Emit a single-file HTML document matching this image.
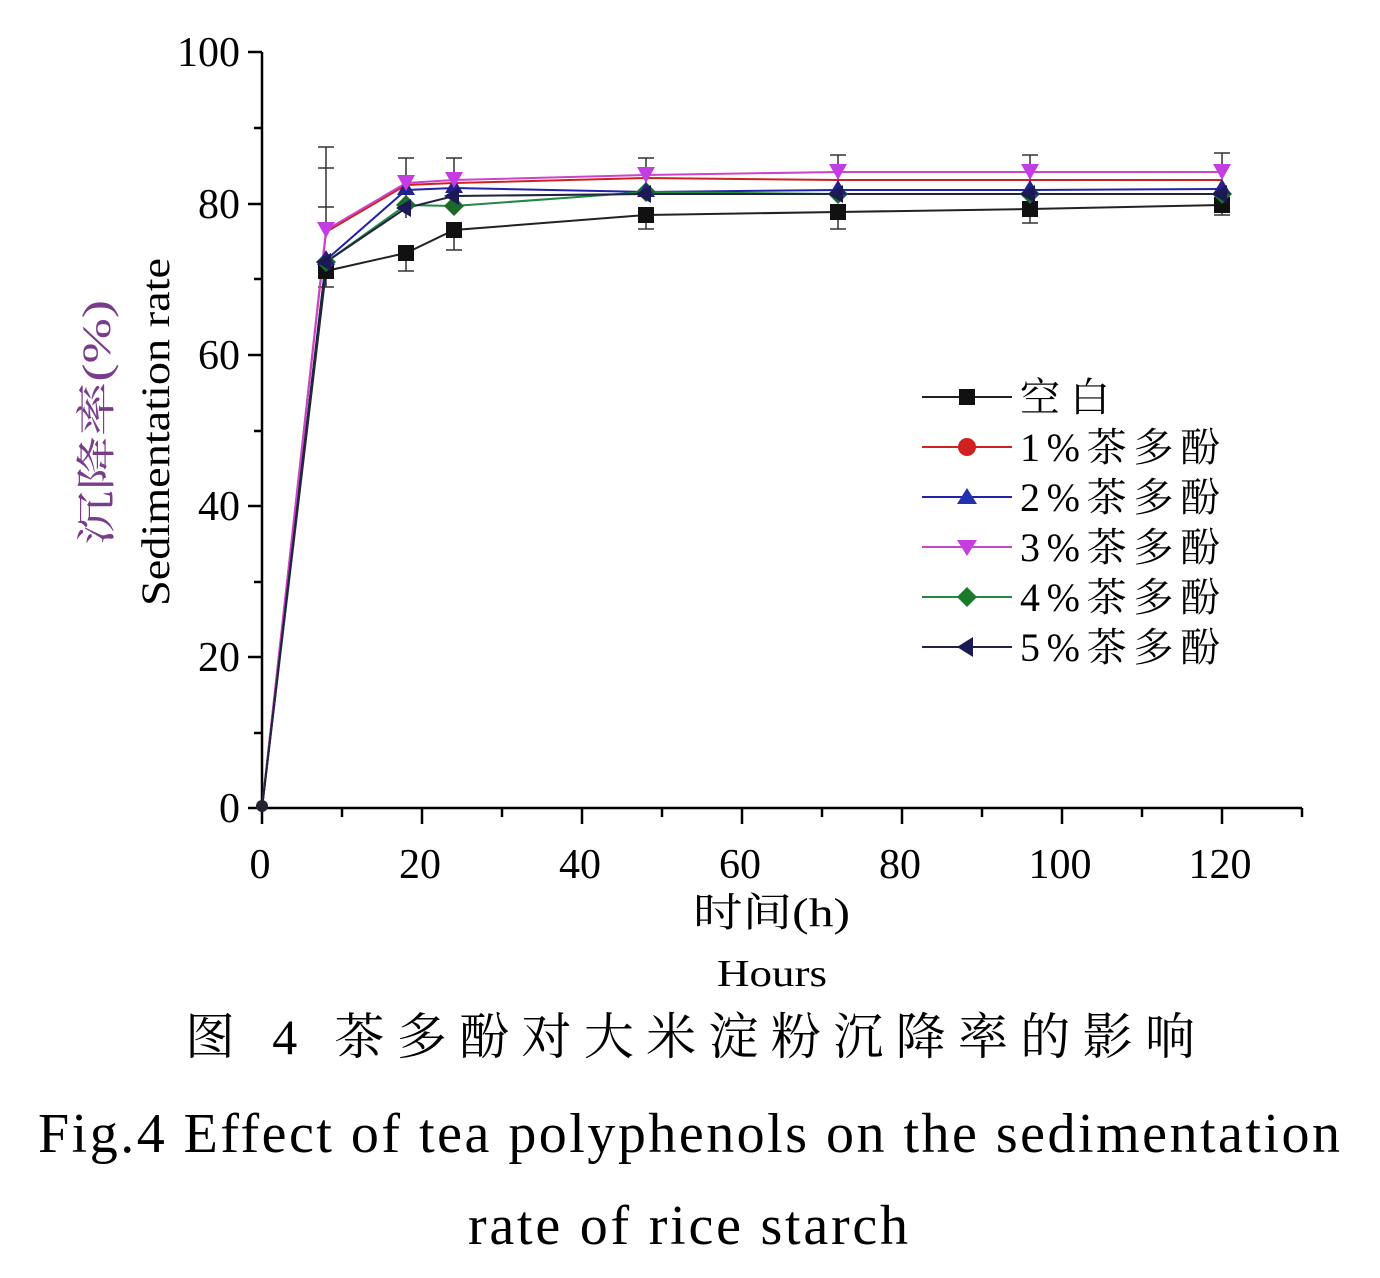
<!DOCTYPE html><html><head><meta charset="utf-8"><style>body{margin:0;background:#fff}svg{display:block}</style></head><body>
<svg width="1380" height="1278" xmlns="http://www.w3.org/2000/svg" font-family="Liberation Serif, Noto Serif CJK SC, serif">
<g stroke="#000" stroke-width="2.5" fill="none">
<line x1="262" y1="52" x2="262" y2="809"/><line x1="261" y1="808" x2="1302" y2="808"/>
<path d="M262 52h-14M262 204h-14M262 355h-14M262 506h-14M262 657h-14M262 808h-14M262 128h-8M262 279h-8M262 431h-8M262 582h-8M262 733h-8"/>
<path d="M262 808v16M422 808v16M582 808v16M742 808v16M902 808v16M1062 808v16M1222 808v16M342 808v9M502 808v9M662 808v9M822 808v9M982 808v9M1142 808v9M1302 808v9"/>
</g>
<g font-size="42" text-anchor="end"><text x="240" y="66">100</text><text x="240" y="218">80</text><text x="240" y="369">60</text><text x="240" y="520">40</text><text x="240" y="671">20</text><text x="240" y="822">0</text></g>
<g font-size="42" text-anchor="middle"><text x="260" y="878">0</text><text x="420" y="878">20</text><text x="580" y="878">40</text><text x="740" y="878">60</text><text x="900" y="878">80</text><text x="1060" y="878">100</text><text x="1220" y="878">120</text></g>
<text transform="translate(110,545) rotate(-90)" font-size="40" fill="#7a3d8c" textLength="245" lengthAdjust="spacingAndGlyphs">沉降率(%)</text>
<text transform="translate(169,606) rotate(-90)" font-size="40" textLength="348" lengthAdjust="spacingAndGlyphs">Sedimentation rate</text>
<text x="693" y="926" font-size="40" textLength="157" lengthAdjust="spacingAndGlyphs">时间(h)</text>
<text x="717" y="986" font-size="38" textLength="110" lengthAdjust="spacingAndGlyphs">Hours</text>
<text x="185" y="1054" font-size="50" textLength="1010" lengthAdjust="spacing">图 4  茶多酚对大米淀粉沉降率的影响</text>
<text x="38" y="1152" font-size="56" textLength="1302" lengthAdjust="spacing">Fig.4 Effect of tea polyphenols on the sedimentation</text>
<text x="468" y="1244" font-size="56" textLength="440" lengthAdjust="spacing">rate of rice starch</text>
<g stroke="#333" stroke-width="1.5">
<path d="M326 147v80M318 147h16M318 168h16M318 207h16M406 158v60M398 158h16M454 158v50M446 158h16M646 158v40M638 158h16M838 155v40M830 155h16M1030 155v40M1022 155h16M1222 153v40M1214 153h16"/>
<path d="M326 271v16M318 287h16M406 253v18M398 271h16M454 230v20M446 250h16M646 215v14M638 229h16M838 212v17M830 229h16M1030 209v14M1022 223h16M1222 205v10M1214 215h16"/>
</g>
<g fill="none" stroke-width="2">
<polyline stroke="#222" points="262,808 326,271 406,253 454,230 646,215 838,212 1030,209 1222,205"/>
<polyline stroke="#c22" points="262,808 326,232 406,185 454,183 646,178 838,180 1030,180 1222,180"/>
<polyline stroke="#22a" points="262,808 326,260 406,190 454,188 646,192 838,190 1030,190 1222,189"/>
<polyline stroke="#c4c" points="262,808 326,230 406,183 454,180 646,175 838,172 1030,172 1222,172"/>
<polyline stroke="#284" points="262,808 326,262 406,205 454,206 646,192 838,194 1030,194 1222,194"/>
<polyline stroke="#224" points="262,808 326,262 406,208 454,196 646,194 838,194 1030,194 1222,194"/>
</g>
<g fill="#111">
<rect x="318" y="263" width="16" height="16"/><rect x="398" y="245" width="16" height="16"/><rect x="446" y="222" width="16" height="16"/><rect x="638" y="207" width="16" height="16"/><rect x="830" y="204" width="16" height="16"/><rect x="1022" y="201" width="16" height="16"/><rect x="1214" y="197" width="16" height="16"/>
</g>
<g fill="#1a6a2a"><path d="M326 252l10 10-10 10-10-10zM406 195l10 10-10 10-10-10zM454 196l10 10-10 10-10-10zM646 182l10 10-10 10-10-10zM838 184l10 10-10 10-10-10zM1030 184l10 10-10 10-10-10zM1222 184l10 10-10 10-10-10z"/></g>
<g fill="#23208a"><path d="M326 250l9 15h-18zM406 180l9 15h-18zM454 178l9 15h-18zM646 182l9 15h-18zM838 180l9 15h-18zM1030 180l9 15h-18zM1222 179l9 15h-18z"/></g>
<g fill="#c33de0"><path d="M317 222h18l-9 16zM397 175h18l-9 16zM445 172h18l-9 16zM637 167h18l-9 16zM829 164h18l-9 16zM1021 164h18l-9 16zM1213 164h18l-9 16z"/></g>
<g fill="#1c1a55"><path d="M316 262l15-9v18zM396 208l15-9v18zM444 196l15-9v18zM636 194l15-9v18zM828 194l15-9v18zM1020 194l15-9v18zM1212 194l15-9v18z"/></g>
<circle cx="262" cy="806" r="6" fill="#223"/>
<g stroke-width="2">
<line x1="922" y1="397" x2="1012" y2="397" stroke="#222"/><rect x="959" y="389" width="16" height="16" fill="#111"/>
<line x1="922" y1="447" x2="1012" y2="447" stroke="#c22"/><circle cx="967" cy="447" r="9" fill="#d02020"/>
<line x1="922" y1="497" x2="1012" y2="497" stroke="#22a"/><path d="M967 488l10 16h-20z" fill="#2030b0"/>
<line x1="922" y1="547" x2="1012" y2="547" stroke="#c4c"/><path d="M957 540h20l-10 16z" fill="#c33de0"/>
<line x1="922" y1="597" x2="1012" y2="597" stroke="#284"/><path d="M967 587l10 10-10 10-10-10z" fill="#1a7a2a"/>
<line x1="922" y1="647" x2="1012" y2="647" stroke="#224"/><path d="M957 647l16-10v20z" fill="#1c1a55"/>
</g>
<g font-size="40"><text x="1020" y="411" textLength="90" lengthAdjust="spacing">空白</text><text x="1020" y="461" textLength="200" lengthAdjust="spacing">1%茶多酚</text><text x="1020" y="511" textLength="200" lengthAdjust="spacing">2%茶多酚</text><text x="1020" y="561" textLength="200" lengthAdjust="spacing">3%茶多酚</text><text x="1020" y="611" textLength="200" lengthAdjust="spacing">4%茶多酚</text><text x="1020" y="661" textLength="200" lengthAdjust="spacing">5%茶多酚</text></g>
</svg></body></html>
